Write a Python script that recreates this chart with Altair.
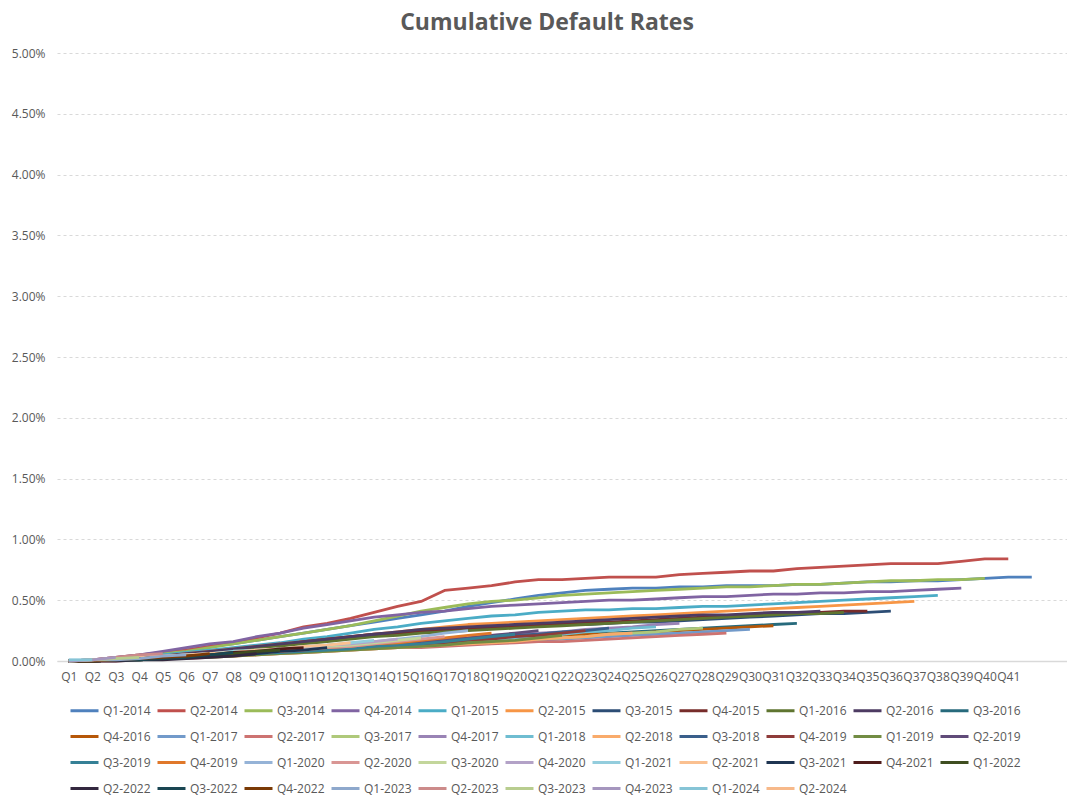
import altair as alt
import pandas as pd

# ---- series labels (as shown in the legend) ----
labels = [
    "Q1-2014", "Q2-2014", "Q3-2014", "Q4-2014", "Q1-2015", "Q2-2015", "Q3-2015", "Q4-2015",
    "Q1-2016", "Q2-2016", "Q3-2016", "Q4-2016", "Q1-2017", "Q2-2017", "Q3-2017", "Q4-2017",
    "Q1-2018", "Q2-2018", "Q3-2018", "Q4-2019", "Q1-2019", "Q2-2019", "Q3-2019", "Q4-2019",
    "Q1-2020", "Q2-2020", "Q3-2020", "Q4-2020", "Q1-2021", "Q2-2021", "Q3-2021", "Q4-2021",
    "Q1-2022", "Q2-2022", "Q3-2022", "Q4-2022", "Q1-2023", "Q2-2023", "Q3-2023", "Q4-2023",
    "Q1-2024", "Q2-2024",
]

colors = [
    "#4F81BD", "#C0504D", "#9BBB59", "#8064A2", "#4BACC6", "#F79646",
    "#2C4D75", "#772C2A", "#5F7530", "#4D3B62", "#276A7C", "#B65708",
    "#729ACA", "#CD7371", "#AFC97A", "#9983B5", "#6FBDD1", "#F9AB6B",
    "#3A5F8B", "#8F3C3A", "#728C43", "#604B79", "#358096", "#E0782A",
    "#95B3D7", "#D99694", "#C3D69B", "#B3A2C7", "#93CDDD", "#FAC090",
    "#1F3552", "#4F1C1B", "#3F4E20", "#33283F", "#1A4652", "#7A3A06",
    "#8EA8CC", "#CC8B8A", "#B8CD8F", "#A596BE", "#86C4D6", "#F7B98A",
]

# ---- cumulative default rates, in percent, by quarter since origination ----
q1_2014 = [0.00, 0.01, 0.02, 0.04, 0.06, 0.09, 0.12, 0.14, 0.17, 0.20, 0.23, 0.26, 0.29, 0.32,
           0.35, 0.38, 0.41, 0.45, 0.48, 0.51, 0.54, 0.56, 0.58, 0.59, 0.60, 0.60, 0.61, 0.61,
           0.62, 0.62, 0.62, 0.63, 0.63, 0.64, 0.65, 0.65, 0.66, 0.66, 0.67, 0.68, 0.69, 0.69]
q2_2014 = [0.00, 0.01, 0.03, 0.05, 0.07, 0.09, 0.12, 0.15, 0.19, 0.23, 0.28, 0.31, 0.35, 0.40,
           0.45, 0.49, 0.58, 0.60, 0.62, 0.65, 0.67, 0.67, 0.68, 0.69, 0.69, 0.69, 0.71, 0.72,
           0.73, 0.74, 0.74, 0.76, 0.77, 0.78, 0.79, 0.80, 0.80, 0.80, 0.82, 0.84, 0.84]
q3_2014 = [0.00, 0.01, 0.02, 0.04, 0.06, 0.08, 0.11, 0.14, 0.17, 0.20, 0.23, 0.26, 0.29, 0.33,
           0.37, 0.41, 0.44, 0.47, 0.49, 0.50, 0.52, 0.54, 0.55, 0.56, 0.57, 0.58, 0.59, 0.60,
           0.61, 0.61, 0.62, 0.63, 0.63, 0.64, 0.65, 0.66, 0.66, 0.67, 0.67, 0.68]
q4_2014 = [0.00, 0.01, 0.03, 0.05, 0.08, 0.11, 0.14, 0.16, 0.20, 0.23, 0.27, 0.30, 0.33, 0.36,
           0.38, 0.40, 0.41, 0.43, 0.45, 0.46, 0.47, 0.48, 0.49, 0.50, 0.50, 0.51, 0.52, 0.53,
           0.53, 0.54, 0.55, 0.55, 0.56, 0.56, 0.57, 0.57, 0.58, 0.59, 0.60]
q1_2015 = [0.00, 0.01, 0.02, 0.03, 0.05, 0.07, 0.09, 0.11, 0.13, 0.15, 0.18, 0.20, 0.23, 0.26,
           0.28, 0.31, 0.33, 0.35, 0.37, 0.38, 0.40, 0.41, 0.42, 0.42, 0.43, 0.43, 0.44, 0.45,
           0.45, 0.46, 0.47, 0.48, 0.49, 0.50, 0.51, 0.52, 0.53, 0.54]
q2_2015 = [0.00, 0.00, 0.01, 0.03, 0.04, 0.06, 0.08, 0.10, 0.12, 0.14, 0.16, 0.18, 0.20, 0.22,
           0.24, 0.26, 0.28, 0.30, 0.31, 0.32, 0.33, 0.34, 0.35, 0.36, 0.37, 0.38, 0.39, 0.40,
           0.41, 0.42, 0.43, 0.44, 0.45, 0.46, 0.47, 0.48, 0.49]
q3_2015 = [0.00, 0.00, 0.01, 0.02, 0.03, 0.05, 0.07, 0.09, 0.11, 0.13, 0.15, 0.17, 0.19, 0.21,
           0.23, 0.24, 0.25, 0.26, 0.27, 0.28, 0.29, 0.30, 0.30, 0.31, 0.32, 0.32, 0.33, 0.34,
           0.35, 0.36, 0.37, 0.38, 0.39, 0.39, 0.40, 0.41]
q4_2015 = [0.00, 0.00, 0.01, 0.02, 0.04, 0.05, 0.07, 0.09, 0.11, 0.13, 0.16, 0.18, 0.20, 0.22,
           0.23, 0.25, 0.26, 0.27, 0.28, 0.29, 0.30, 0.31, 0.32, 0.32, 0.33, 0.34, 0.35, 0.36,
           0.37, 0.38, 0.39, 0.40, 0.40, 0.41, 0.41]
q1_2016 = [0.00, 0.00, 0.01, 0.02, 0.03, 0.05, 0.07, 0.08, 0.10, 0.12, 0.14, 0.16, 0.18, 0.20,
           0.21, 0.23, 0.24, 0.25, 0.26, 0.27, 0.28, 0.29, 0.30, 0.31, 0.32, 0.33, 0.34, 0.35,
           0.36, 0.37, 0.38, 0.39, 0.39, 0.40]
q2_2016 = [0.00, 0.00, 0.01, 0.02, 0.04, 0.06, 0.08, 0.10, 0.12, 0.14, 0.16, 0.18, 0.20, 0.22,
           0.24, 0.26, 0.27, 0.28, 0.29, 0.30, 0.31, 0.32, 0.33, 0.34, 0.35, 0.36, 0.37, 0.38,
           0.38, 0.39, 0.40, 0.40, 0.41]
q3_2016 = [0.00, 0.00, 0.01, 0.01, 0.02, 0.03, 0.05, 0.06, 0.07, 0.09, 0.10, 0.11, 0.12, 0.13,
           0.14, 0.16, 0.17, 0.18, 0.19, 0.20, 0.21, 0.22, 0.22, 0.23, 0.24, 0.25, 0.26, 0.27,
           0.28, 0.29, 0.30, 0.31]
q4_2016 = [0.00, 0.00, 0.01, 0.02, 0.03, 0.04, 0.05, 0.06, 0.08, 0.09, 0.10, 0.11, 0.12, 0.13,
           0.14, 0.15, 0.16, 0.17, 0.18, 0.19, 0.20, 0.21, 0.22, 0.22, 0.23, 0.24, 0.25, 0.26,
           0.27, 0.28, 0.29]
q1_2017 = [0.00, 0.00, 0.01, 0.01, 0.02, 0.03, 0.04, 0.05, 0.06, 0.07, 0.08, 0.09, 0.10, 0.11,
           0.12, 0.13, 0.14, 0.15, 0.16, 0.17, 0.17, 0.18, 0.19, 0.20, 0.21, 0.22, 0.23, 0.24,
           0.25, 0.26]
q2_2017 = [0.00, 0.00, 0.00, 0.01, 0.02, 0.02, 0.03, 0.04, 0.05, 0.06, 0.07, 0.08, 0.09, 0.10,
           0.11, 0.11, 0.12, 0.13, 0.14, 0.15, 0.16, 0.16, 0.17, 0.18, 0.19, 0.20, 0.21, 0.22,
           0.23]
q3_2017 = [0.00, 0.00, 0.01, 0.01, 0.02, 0.03, 0.04, 0.05, 0.06, 0.07, 0.08, 0.09, 0.10, 0.11,
           0.12, 0.13, 0.14, 0.15, 0.16, 0.17, 0.18, 0.19, 0.20, 0.22, 0.23, 0.24, 0.26, 0.27]
q4_2017 = [0.00, 0.00, 0.01, 0.02, 0.03, 0.04, 0.05, 0.06, 0.07, 0.09, 0.10, 0.11, 0.13, 0.14,
           0.15, 0.17, 0.18, 0.19, 0.21, 0.22, 0.23, 0.24, 0.26, 0.27, 0.28, 0.30, 0.31]
q1_2018 = [0.00, 0.00, 0.01, 0.02, 0.03, 0.04, 0.05, 0.06, 0.07, 0.08, 0.09, 0.10, 0.11, 0.12,
           0.14, 0.15, 0.16, 0.17, 0.18, 0.19, 0.21, 0.22, 0.24, 0.25, 0.27, 0.28]
q2_2018 = [0.00, 0.00, 0.01, 0.01, 0.02, 0.03, 0.04, 0.04, 0.05, 0.06, 0.07, 0.08, 0.09, 0.10,
           0.11, 0.12, 0.13, 0.14, 0.15, 0.16, 0.18, 0.19, 0.20, 0.22, 0.23]
q3_2018 = [0.00, 0.00, 0.01, 0.02, 0.03, 0.04, 0.05, 0.06, 0.07, 0.08, 0.09, 0.10, 0.12, 0.13,
           0.14, 0.15, 0.17, 0.18, 0.19, 0.21, 0.22, 0.24, 0.25, 0.27]
q4_2019a = [0.00, 0.00, 0.01, 0.02, 0.02, 0.03, 0.04, 0.05, 0.06, 0.07, 0.08, 0.09, 0.10, 0.12,
            0.13, 0.14, 0.15, 0.17, 0.18, 0.20, 0.21, 0.23, 0.25]
q1_2019 = [0.00, 0.00, 0.01, 0.01, 0.02, 0.03, 0.03, 0.04, 0.05, 0.06, 0.07, 0.08, 0.09, 0.10,
           0.11, 0.12, 0.13, 0.15, 0.16, 0.17, 0.19, 0.21]
q2_2019 = [0.00, 0.00, 0.01, 0.02, 0.03, 0.04, 0.05, 0.06, 0.07, 0.08, 0.09, 0.11, 0.12, 0.13,
           0.15, 0.16, 0.18, 0.19, 0.21, 0.23, 0.25]
q3_2019 = [0.00, 0.00, 0.01, 0.01, 0.02, 0.03, 0.04, 0.05, 0.06, 0.07, 0.08, 0.09, 0.10, 0.12,
           0.13, 0.14, 0.16, 0.18, 0.20, 0.22]
q4_2019b = [0.00, 0.00, 0.01, 0.02, 0.03, 0.04, 0.05, 0.06, 0.07, 0.08, 0.10, 0.11, 0.12, 0.14,
            0.15, 0.17, 0.19, 0.21, 0.23]
q1_2020 = [0.00, 0.01, 0.01, 0.02, 0.03, 0.04, 0.05, 0.06, 0.08, 0.09, 0.10, 0.12, 0.14, 0.16,
           0.18, 0.20, 0.23, 0.25]
q2_2020 = [0.00, 0.00, 0.01, 0.02, 0.03, 0.04, 0.05, 0.06, 0.07, 0.08, 0.09, 0.11, 0.12, 0.14,
           0.16, 0.18, 0.20]
q3_2020 = [0.00, 0.01, 0.01, 0.02, 0.03, 0.04, 0.05, 0.06, 0.07, 0.09, 0.10, 0.12, 0.13, 0.15,
           0.17, 0.19]
q4_2020 = [0.00, 0.01, 0.02, 0.03, 0.04, 0.05, 0.06, 0.07, 0.09, 0.10, 0.11, 0.13, 0.14, 0.16,
           0.18]
q1_2021 = [0.00, 0.01, 0.02, 0.03, 0.04, 0.05, 0.06, 0.08, 0.09, 0.10, 0.12, 0.13, 0.15, 0.17]
q2_2021 = [0.00, 0.01, 0.02, 0.03, 0.04, 0.05, 0.06, 0.07, 0.09, 0.10, 0.12, 0.13, 0.15]
q3_2021 = [0.00, 0.00, 0.01, 0.01, 0.02, 0.03, 0.04, 0.05, 0.06, 0.08, 0.09, 0.11]
q4_2021 = [0.00, 0.00, 0.01, 0.02, 0.03, 0.04, 0.05, 0.07, 0.08, 0.10, 0.11]
q1_2022 = [0.00, 0.00, 0.01, 0.02, 0.03, 0.04, 0.05, 0.06, 0.08, 0.09]
q2_2022 = [0.00, 0.00, 0.00, 0.01, 0.01, 0.02, 0.03, 0.04, 0.06]
q3_2022 = [0.00, 0.00, 0.01, 0.01, 0.02, 0.03, 0.05, 0.07]
q4_2022 = [0.00, 0.00, 0.01, 0.02, 0.03, 0.04, 0.06]
q1_2023 = [0.00, 0.01, 0.01, 0.02, 0.04, 0.05]
q2_2023 = [0.00, 0.01, 0.03, 0.05, 0.06]
q3_2023 = [0.00, 0.01, 0.02, 0.03]
q4_2023 = [0.00, 0.01, 0.03]
q1_2024 = [0.01, 0.01]
q2_2024 = [0.01]

series_values = [
    q1_2014, q2_2014, q3_2014, q4_2014, q1_2015, q2_2015, q3_2015, q4_2015,
    q1_2016, q2_2016, q3_2016, q4_2016, q1_2017, q2_2017, q3_2017, q4_2017,
    q1_2018, q2_2018, q3_2018, q4_2019a, q1_2019, q2_2019, q3_2019, q4_2019b,
    q1_2020, q2_2020, q3_2020, q4_2020, q1_2021, q2_2021, q3_2021, q4_2021,
    q1_2022, q2_2022, q3_2022, q4_2022, q1_2023, q2_2023, q3_2023, q4_2023,
    q1_2024, q2_2024,
]

x_tick_quarters = list(range(1, 42))
y_ticks = [0.0, 0.005, 0.01, 0.015, 0.02, 0.025, 0.03, 0.035, 0.04, 0.045, 0.05]

rows = []
for idx, vals in enumerate(series_values):
    for k, v in enumerate(vals, start=1):
        rows.append({"sid": f"{idx:02d}", "q": k, "rate": v / 100.0})
df = pd.DataFrame(rows)
sids = [f"{i:02d}" for i in range(len(labels))]
label_js = "[" + ",".join("'" + l + "'" for l in labels) + "]"

FONT = "Open Sans"
TXT = "#595959"
GRID = "#D9D9D9"

chart = alt.Chart(df).mark_line(strokeWidth=2.8, strokeJoin="round").encode(
    x=alt.X(
        "q:Q",
        scale=alt.Scale(domain=[0.5, 43.5], nice=False, zero=False),
        axis=alt.Axis(
            values=x_tick_quarters, labelExpr="'Q' + datum.value", title=None,
            grid=False, ticks=False, domainColor=GRID, domainWidth=1.5,
            labelColor=TXT, labelFont=FONT, labelFontSize=12,
            labelOverlap=False, labelFlush=False, labelPadding=10,
        ),
    ),
    y=alt.Y(
        "rate:Q",
        scale=alt.Scale(domain=[0, 0.05], nice=False),
        axis=alt.Axis(
            values=y_ticks, format=".2%", title=None, domain=False, ticks=False,
            gridColor=GRID, gridDash=[3, 3], gridWidth=1,
            labelColor=TXT, labelFont=FONT, labelFontSize=12, labelPadding=12,
        ),
    ),
    color=alt.Color(
        "sid:N",
        scale=alt.Scale(domain=sids, range=colors),
        legend=alt.Legend(
            title=None, orient="none", legendX=12, legendY=642,
            direction="horizontal", columns=11, symbolLimit=60,
            symbolType="stroke", symbolSize=784, symbolStrokeWidth=3,
            labelFont=FONT, labelFontSize=12, labelColor=TXT, labelOffset=3,
            columnPadding=0, rowPadding=4,
            labelExpr=label_js + "[toNumber(datum.value)]",
        ),
    ),
).properties(
    width=1010,
    height=608,
    background="white",
    title=alt.TitleParams(
        "Cumulative Default Rates", font=FONT, fontSize=23, fontWeight="bold",
        color=TXT, anchor="middle", dx=-15, offset=12,
    ),
    autosize=alt.AutoSizeParams(type="none"),
    padding={"left": 49, "top": 45, "right": 0, "bottom": 135},
).configure_view(stroke=None)

chart.save("out.html", embed_options={"renderer": "svg", "actions": False})
